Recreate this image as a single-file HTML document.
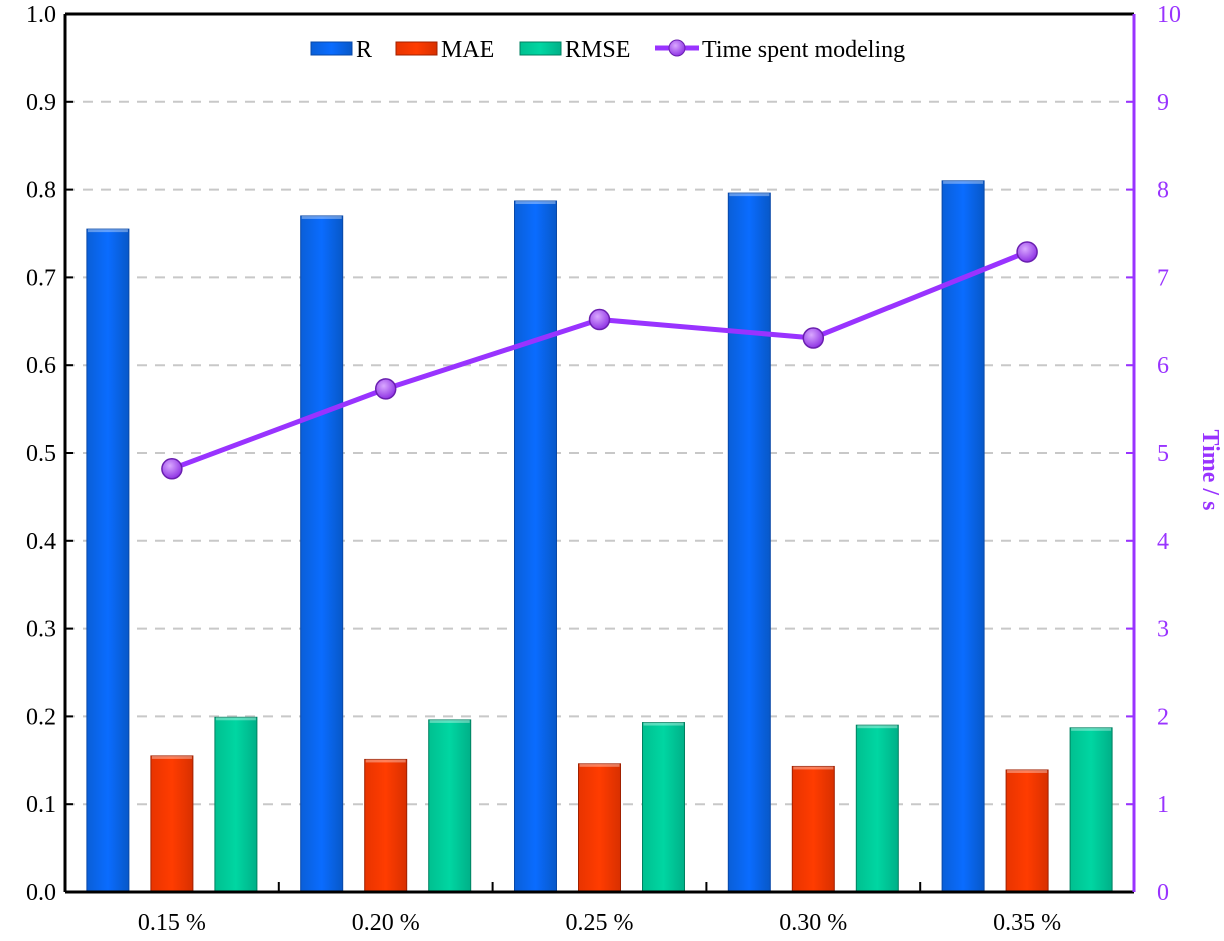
<!DOCTYPE html>
<html><head><meta charset="utf-8"><style>
body{margin:0;background:#fff}
svg text{font-family:"Liberation Serif",serif}
</style></head><body>
<svg id="chart" width="1224" height="936" xmlns="http://www.w3.org/2000/svg">
<defs>
<linearGradient id="gR" x1="0" x2="1"><stop offset="0" stop-color="#0a5fd8"/><stop offset="0.5" stop-color="#0a6cff"/><stop offset="1" stop-color="#0858c8"/></linearGradient>
<linearGradient id="gM" x1="0" x2="1"><stop offset="0" stop-color="#e83400"/><stop offset="0.5" stop-color="#ff3c00"/><stop offset="1" stop-color="#d83000"/></linearGradient>
<linearGradient id="gS" x1="0" x2="1"><stop offset="0" stop-color="#00c090"/><stop offset="0.5" stop-color="#00d6a2"/><stop offset="1" stop-color="#00b088"/></linearGradient>
<radialGradient id="gP" cx="0.4" cy="0.35" r="0.7"><stop offset="0" stop-color="#d9a8ff"/><stop offset="1" stop-color="#8a2be2"/></radialGradient>
</defs>
<g id="grid"></g><g id="bars"></g><g id="line"></g><g id="axes"></g>
<g font-size="24">
<rect x="311" y="42" width="41" height="13" fill="url(#gR)" stroke="#0848a8"/><text x="356" y="57">R</text>
<rect x="396" y="42" width="41" height="13" fill="url(#gM)" stroke="#a02000"/><text x="441" y="57">MAE</text>
<rect x="520" y="42" width="41" height="13" fill="url(#gS)" stroke="#008060"/><text x="565" y="57">RMSE</text>
<line x1="655" y1="48" x2="699" y2="48" stroke="#9933ff" stroke-width="5"/><circle cx="677" cy="48" r="8" fill="url(#gP)" stroke="#6a1fb0"/>
<text x="702" y="57">Time spent modeling</text>
</g>
<text transform="translate(1203,470) rotate(90)" text-anchor="middle" font-size="24" font-weight="bold" fill="#9933ff">Time / s</text>
</svg>
<script>
const categories=["0.15 %","0.20 %","0.25 %","0.30 %","0.35 %"];
const rVals=[0.755,0.770,0.787,0.796,0.810];
const maeVals=[0.155,0.151,0.146,0.143,0.139];
const rmseVals=[0.199,0.196,0.193,0.190,0.187];
const timeVals=[4.82,5.73,6.52,6.31,7.29];
const leftTicks=["0.0","0.1","0.2","0.3","0.4","0.5","0.6","0.7","0.8","0.9","1.0"];
const rightTicks=["0","1","2","3","4","5","6","7","8","9","10"];
const NS="http://www.w3.org/2000/svg";
const X0=65,X1=1134,Y0=892,Y1=14;
const bw=(X1-X0)/categories.length;
const yL=v=>Y0-(v/1)*(Y0-Y1);
const yR=v=>Y0-(v/10)*(Y0-Y1);
const xC=i=>X0+bw*(i+0.5);
function mk(t,a,p){const e=document.createElementNS(NS,t);for(const k in a)e.setAttribute(k,a[k]);p.appendChild(e);return e;}
const grid=document.getElementById('grid'),bars=document.getElementById('bars'),line=document.getElementById('line'),axes=document.getElementById('axes');
leftTicks.forEach((t,i)=>{const v=i/10,y=yL(v);
 if(i>0&&i<10){const g=mk('line',{x1:X0,x2:X1,y1:y,y2:y,stroke:'#c8c8c8','stroke-width':2,'stroke-dasharray':'10,8'},grid);
 
 }
 const tk=mk('line',{x1:X0,x2:X0+8,y1:y,y2:y,stroke:'#000','stroke-width':2},axes);
 
 
 const tx=mk('text',{x:X0-9,y:y+8,'text-anchor':'end','font-size':24},axes);tx.textContent=t;
 
 
});
rightTicks.forEach((t,i)=>{const y=yR(+t);
 const tk=mk('line',{x1:X1-8,x2:X1,y1:y,y2:y,stroke:'#9933ff','stroke-width':2},axes);
 
 
 const tx=mk('text',{x:X1+23,y:y+8,'text-anchor':'start','font-size':24,fill:'#9933ff'},axes);tx.textContent=t;
 
 
});
const series=[[rVals,'url(#gR)','#0848a8',-64,'bar-r'],[maeVals,'url(#gM)','#a02000',0,'bar-mae'],[rmseVals,'url(#gS)','#008060',64,'bar-rmse']];
categories.forEach((c,i)=>{
 series.forEach(s=>{const v=s[0][i],x=xC(i)+s[3]-21,y=yL(v);
  const r=mk('rect',{x:x,y:y,width:42,height:Y0-y,fill:s[1],stroke:s[2],'stroke-width':1},bars);
  
  
  mk('rect',{x:x+1,y:y,width:40,height:3,fill:'#ffffff','fill-opacity':0.35},bars);
 });
 const tx=mk('text',{x:xC(i),y:Y0+38,'text-anchor':'middle','font-size':24},axes);tx.textContent=c;
 
 
 if(i>0){const tk=mk('line',{x1:X0+bw*i,x2:X0+bw*i,y1:Y0,y2:Y0-10,stroke:'#000','stroke-width':2},axes);
 
 }
});
const pts=timeVals.map((v,i)=>xC(i)+','+yR(v)).join(' ');
const pl=mk('polyline',{points:pts,fill:'none',stroke:'#9933ff','stroke-width':5},line);


timeVals.forEach((v,i)=>{const c=mk('circle',{cx:xC(i),cy:yR(v),r:10,fill:'url(#gP)',stroke:'#6a1fb0','stroke-width':1.5},line);
 
 });
const ax=[[X0,Y1,X0,Y0,'#000','left-axis'],[X0,Y0,X1,Y0,'#000','x-axis'],[X0,Y1,X1,Y1,'#000','top-border'],[X1,Y1,X1,Y0,'#9933ff','right-axis']];
ax.forEach(a=>{const l=mk('line',{x1:a[0],y1:a[1],x2:a[2],y2:a[3],stroke:a[4],'stroke-width':3},axes);
 
 });
</script>
</body></html>
